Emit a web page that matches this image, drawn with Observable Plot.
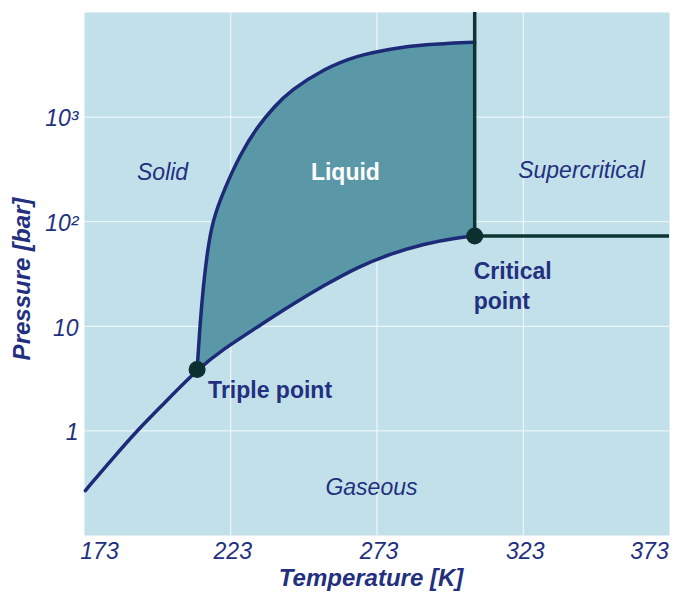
<!DOCTYPE html>
<html><head><meta charset="utf-8">
<script src="https://cdn.jsdelivr.net/npm/d3@7"></script>
<script src="https://cdn.jsdelivr.net/npm/@observablehq/plot@0.6"></script>
<style>body{margin:0;background:#fff}</style>
</head><body><div id="chart"></div>
<script>
// Axis ticks
const xTicks = [173, 223, 273, 323, 373];
const yTicks = [1, 10, 100, 1000];
const yTickLabels = ["1", "10", "10²", "10³"];

// Sublimation + vaporization (boiling) curve, T [K] and P [bar]
const boilT = [173.3, 183.0, 191.0, 200.1, 211.5, 220.6, 232.0, 243.4, 254.8, 266.2, 277.6, 289.0, 300.4, 306.4];
const boilP = [0.269, 0.561, 1.01, 1.82, 3.86, 6.10, 9.80, 15.8, 24.5, 36.7, 49.3, 61.5, 70.2, 73.0];

// Melting curve from triple point upward
const meltT = [211.5, 212.6, 213.6, 214.9, 216.8, 220.6, 226.3, 232.0, 237.7, 243.4, 254.8, 266.2, 277.6, 289.0, 306.4];
const meltP = [3.86, 11.4, 23.5, 49.7, 103, 199, 446, 800, 1244, 1796, 2895, 3882, 4497, 4943, 5200];

const triplePoint = {T: 211.5, P: 3.86};
const criticalPoint = {T: 306.4, P: 73.0};
const tDomain = [173, 373];
const pDomain = [0.1, 10000];

const boil = boilT.map((t, i) => ({T: t, P: boilP[i]}));
const melt = meltT.map((t, i) => ({T: t, P: meltP[i]}));
// liquid region: melting curve up, then boiling curve back down to the triple point
const liquid = melt.concat(boil.filter(d => d.T >= triplePoint.T).reverse());

const navy = "#22307f";
const font = "Liberation Sans, Arial, sans-serif";
const fs = 23;

const chart = Plot.plot({
  width: 673, height: 599,
  marginLeft: 84, marginRight: 4, marginTop: 12, marginBottom: 64,
  style: {fontFamily: font, background: "white"},
  x: {domain: tDomain, axis: null},
  y: {type: "log", domain: pDomain, axis: null},
  marks: [
    Plot.frame({fill: "#c2e0ea", stroke: null}),
    Plot.gridX(xTicks.slice(1, -1), {stroke: "white", strokeOpacity: 0.85, strokeWidth: 1}),
    Plot.gridY(yTicks, {stroke: "white", strokeOpacity: 0.85, strokeWidth: 1}),
    Plot.line(liquid, {x: "T", y: "P", fill: "#5a98a8", stroke: null, curve: "linear"}),
    Plot.line(boil, {x: "T", y: "P", stroke: "#1d2a78", strokeWidth: 3.5, curve: "basis"}),
    Plot.line(melt, {x: "T", y: "P", stroke: "#1d2a78", strokeWidth: 3.5, curve: "basis"}),
    Plot.ruleX([criticalPoint], {x: "T", y1: "P", y2: pDomain[1], stroke: "#0e3333", strokeWidth: 3.5}),
    Plot.ruleY([criticalPoint], {y: "P", x1: "T", x2: tDomain[1], stroke: "#0e3333", strokeWidth: 3.5}),
    Plot.dot([triplePoint, criticalPoint], {x: "T", y: "P", r: 8.5, fill: "#0c2f30", stroke: null}),
    // region labels
    Plot.text(["Solid"], {x: 199.7, y: 295, fontSize: fs, fontStyle: "italic", fill: navy}),
    Plot.text(["Liquid"], {x: 262.2, y: 295, fontSize: fs, fontWeight: "bold", fill: "white"}),
    Plot.text(["Supercritical"], {x: 342.9, y: 308, fontSize: fs, fontStyle: "italic", fill: navy}),
    Plot.text(["Gaseous"], {x: 271.1, y: 0.288, fontSize: fs, fontStyle: "italic", fill: navy}),
    Plot.text([triplePoint], {x: "T", y: "P", text: () => "Triple point", textAnchor: "start", dx: 11, dy: 21, fontSize: fs, fontWeight: "bold", fill: navy}),
    Plot.text([criticalPoint], {x: "T", y: "P", text: () => "Critical\npoint", textAnchor: "start", dx: -1, dy: 48, lineHeight: 1.3, fontSize: fs, fontWeight: "bold", fill: navy}),
    // tick labels
    Plot.text(xTicks.slice(0, 1), {x: d => d, frameAnchor: "bottom", textAnchor: "middle", dy: 23, dx: 15, fontSize: fs, fontStyle: "italic", fill: navy}),
    Plot.text(xTicks.slice(1, -1), {x: d => d, frameAnchor: "bottom", textAnchor: "middle", dy: 23, dx: 2, fontSize: fs, fontStyle: "italic", fill: navy}),
    Plot.text(xTicks.slice(-1), {x: d => d, frameAnchor: "bottom", textAnchor: "middle", dy: 23, dx: -20, fontSize: fs, fontStyle: "italic", fill: navy}),
    Plot.text(yTicks, {y: d => d, text: (d, i) => yTickLabels[i], frameAnchor: "left", dx: -6, dy: 2, textAnchor: "end", fontSize: fs, fontStyle: "italic", fill: navy}),
    // axis titles
    Plot.text(["Temperature [K]"], {frameAnchor: "bottom", textAnchor: "middle", dy: 50, dx: -6, fontSize: 24, fontStyle: "italic", fontWeight: "bold", fill: navy}),
    Plot.text(["Pressure [bar]"], {frameAnchor: "left", textAnchor: "middle", dx: -62, dy: 5, rotate: -90, fontSize: 24, fontStyle: "italic", fontWeight: "bold", fill: navy})
  ]
});
document.getElementById("chart").appendChild(chart);
</script>
</body></html>
